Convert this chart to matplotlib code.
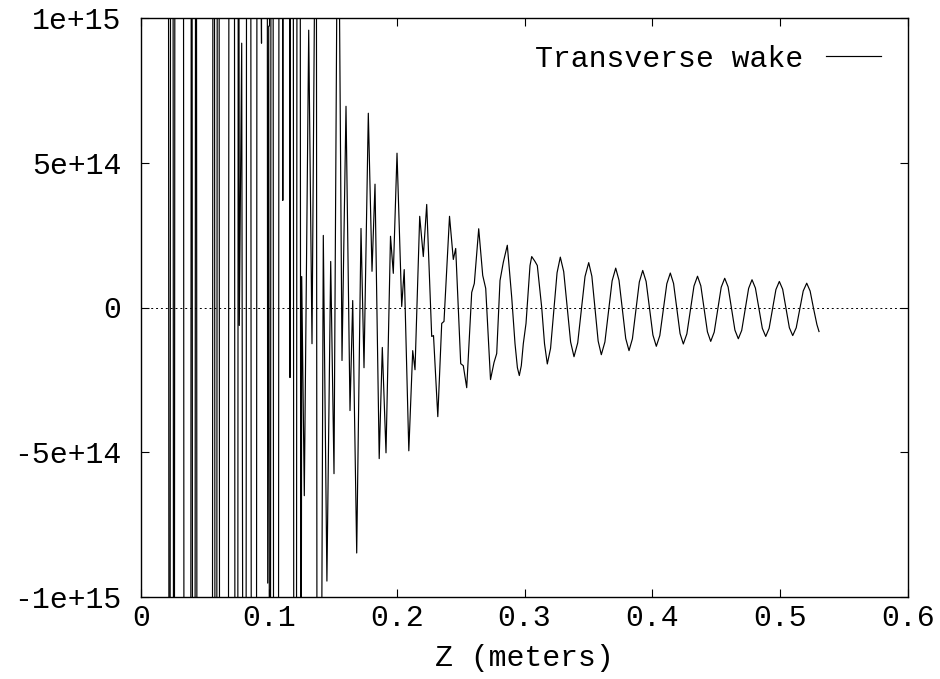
import matplotlib
matplotlib.use("Agg")
import matplotlib.pyplot as plt

# ---------------- data ----------------
z_m = [
    0.02128, 0.02206, 0.02253, 0.02331, 0.02488, 0.02566, 0.02597, 0.02675,
    0.03301, 0.03380, 0.03872, 0.03951, 0.03974, 0.04052, 0.04209, 0.04287,
    0.04318, 0.04396, 0.05570, 0.05648, 0.05726, 0.05805, 0.05906, 0.05985,
    0.06086, 0.06164, 0.06822, 0.06900, 0.07291, 0.07369, 0.07549, 0.07627,
    0.07690, 0.07878, 0.08018, 0.08198, 0.08277, 0.08566, 0.08644, 0.09012,
    0.09090, 0.09427, 0.09466, 0.09857, 0.09912, 0.09990, 0.10037, 0.10076,
    0.10107, 0.10185, 0.10311, 0.10389, 0.10733, 0.10811, 0.11030, 0.11093,
    0.11155, 0.11601, 0.11656, 0.11719, 0.11891, 0.11969, 0.12141, 0.12219,
    0.12438, 0.12517, 0.12571, 0.12775, 0.13119, 0.13377, 0.13643, 0.13706,
    0.13784, 0.14042, 0.14261, 0.14543, 0.14840, 0.15098, 0.15411, 0.15724,
    0.16037, 0.16350, 0.16561, 0.16874, 0.17210, 0.17445, 0.17782, 0.18071,
    0.18306, 0.18634, 0.18877, 0.19166, 0.19518, 0.19737, 0.20027, 0.20394,
    0.20590, 0.20950, 0.21255, 0.21435, 0.21802, 0.22084, 0.22350, 0.22546,
    0.22741, 0.22882, 0.23218, 0.23524, 0.23703, 0.23922, 0.24134, 0.24431,
    0.24618, 0.24814, 0.25010, 0.25213, 0.25479, 0.25675, 0.25870, 0.26074,
    0.26418, 0.26731, 0.26966, 0.27153, 0.27341, 0.27615, 0.27826, 0.28084,
    0.28342, 0.28655, 0.29000, 0.29258, 0.29445, 0.29594, 0.29750, 0.29907,
    0.30118, 0.30298, 0.30431, 0.30564, 0.30822, 0.31002, 0.31346, 0.31565,
    0.31784, 0.32039, 0.32293, 0.32547, 0.32801, 0.33067, 0.33337, 0.33607,
    0.33873, 0.34163, 0.34448, 0.34734, 0.35023, 0.35270, 0.35516, 0.35762,
    0.36009, 0.36290, 0.36572, 0.36854, 0.37135, 0.37393, 0.37656, 0.37918,
    0.38176, 0.38442, 0.38712, 0.38982, 0.39248, 0.39513, 0.39779, 0.40045,
    0.40311, 0.40585, 0.40859, 0.41133, 0.41407, 0.41661, 0.41915, 0.42169,
    0.42424, 0.42701, 0.42979, 0.43257, 0.43534, 0.43793, 0.44051, 0.44309,
    0.44567, 0.44841, 0.45115, 0.45388, 0.45662, 0.45928, 0.46194, 0.46460,
    0.46726, 0.46992, 0.47262, 0.47532, 0.47798, 0.48064, 0.48334, 0.48604,
    0.48870, 0.49136, 0.49402, 0.49668, 0.49934, 0.50196, 0.50458, 0.50720,
    0.50982, 0.51256, 0.51529, 0.51803, 0.52077, 0.52343, 0.52609, 0.52875,
    0.53039,
]

wake = [
    3.1e15, -2.9e15, -3.2e15, 3.0e15, 2.8e15, -3.1e15, -2.7e15, 3.3e15,
    3.0e15, -2.8e15, -3.0e15, 2.9e15, 3.1e15, -3.2e15, -2.6e15, 2.7e15,
    3.0e15, -3.0e15, -2.9e15, 3.2e15, 2.8e15, -2.7e15, -3.1e15, 2.9e15,
    3.3e15, -3.0e15, -2.8e15, 3.1e15, 2.7e15, -2.9e15, -3.2e15, 3.0e15,
    -0.62e14, 9.13e14, -2.8e15, -3.0e15, 2.9e15, 3.1e15, -2.7e15, -3.0e15,
    2.8e15, 9.13e14, 3.0e15, 2.9e15, -9.52e14, 9.72e14, -9.72e14, -2.9e15,
    -3.1e15, 2.8e15, 3.0e15, -2.8e15, -3.0e15, 2.7e15, 2.9e15, 3.70e14,
    2.8e15, 2.6e15, -2.42e14, 2.7e15, 2.9e15, -2.6e15, -2.8e15, 2.5e15,
    2.4e15, -2.3e15, 1.07e14, -6.50e14, 9.58e14, -1.25e14, 1.5e15, 2.2e15,
    -2.4e15, -2.2e15, 2.49e14, -9.45e14, 1.59e14, -5.74e14, 1.76e15, -1.83e14,
    6.95e14, -3.56e14, 0.24e14, -8.48e14, 2.73e14, -2.08e14, 6.71e14, 1.25e14,
    4.26e14, -5.22e14, -1.38e14, -5.02e14, 2.46e14, 1.18e14, 5.33e14, 0.035e14,
    1.31e14, -4.95e14, -1.49e14, -2.15e14, 3.15e14, 1.76e14, 3.56e14, 1.28e14,
    -1.00e14, -0.97e14, -3.77e14, -0.55e14, -0.48e14, 1.35e14, 3.15e14, 1.66e14,
    2.04e14, 0.07e14, -1.94e14, -2.01e14, -2.77e14, -1.14e14, 0.52e14, 0.83e14,
    2.72e14, 1.11e14, 0.66e14, -0.90e14, -2.49e14, -1.90e14, -1.59e14, 0.93e14,
    1.56e14, 2.15e14, 0.35e14, -1.25e14, -2.08e14, -2.35e14, -2.01e14, -1.25e14,
    -0.55e14, 0.59e14, 1.45e14, 1.76e14, 1.59e14, 1.45e14, 0.0, -1.25e14,
    -1.95e14, -1.41e14, -0.10e14, 1.20e14, 1.74e14, 1.24e14, 0.02e14, -1.19e14,
    -1.70e14, -1.22e14, -0.08e14, 1.07e14, 1.55e14, 1.08e14, -0.04e14, -1.16e14,
    -1.63e14, -1.19e14, -0.13e14, 0.92e14, 1.36e14, 0.94e14, -0.07e14, -1.07e14,
    -1.49e14, -1.08e14, -0.10e14, 0.88e14, 1.28e14, 0.90e14, -0.03e14, -0.95e14,
    -1.34e14, -0.97e14, -0.08e14, 0.82e14, 1.19e14, 0.83e14, -0.03e14, -0.90e14,
    -1.26e14, -0.91e14, -0.09e14, 0.74e14, 1.08e14, 0.75e14, -0.04e14, -0.84e14,
    -1.17e14, -0.85e14, -0.08e14, 0.70e14, 1.01e14, 0.71e14, -0.03e14, -0.78e14,
    -1.08e14, -0.79e14, -0.06e14, 0.66e14, 0.96e14, 0.67e14, -0.02e14, -0.72e14,
    -1.00e14, -0.72e14, -0.05e14, 0.62e14, 0.90e14, 0.63e14, -0.03e14, -0.70e14,
    -0.97e14, -0.70e14, -0.07e14, 0.57e14, 0.84e14, 0.57e14, -0.03e14, -0.59e14,
    -0.83e14,
]

x_ticks = [0.0, 0.1, 0.2, 0.3, 0.4, 0.5, 0.6]
x_tick_labels = ["0", "0.1", "0.2", "0.3", "0.4", "0.5", "0.6"]
y_ticks = [-1e15, -5e14, 0.0, 5e14, 1e15]
y_tick_labels = ["-1e+15", "-5e+14", "0", "5e+14", "1e+15"]
series_label = "Transverse wake"
x_label = "Z (meters)"

# ---------------- figure ----------------
plt.rcParams["font.family"] = ["Liberation Mono", "DejaVu Sans Mono"]
FS = 21.5

fig = plt.figure(figsize=(9.4, 6.79), dpi=100)
ax = fig.add_axes([141 / 940, 1 - 597 / 679, 767 / 940, 579 / 679])

ax.plot(z_m, wake, color="black", lw=0.85, label=series_label,
        solid_joinstyle="round")
ax.axhline(0.0, color="black", lw=0.7, ls=(0, (2.0, 3.0)), zorder=1)

ax.set_xlim(0, 0.6)
ax.set_ylim(-1e15, 1e15)
ax.set_xticks(x_ticks)
ax.set_xticklabels(x_tick_labels)
ax.set_yticks(y_ticks)
ax.set_yticklabels(y_tick_labels)
ax.minorticks_off()

ax.tick_params(axis="both", direction="in", length=5.5, width=0.8,
               top=True, right=True, labelsize=FS, color="black")
ax.tick_params(axis="y", pad=14)
ax.tick_params(axis="x", pad=5)
for sp in ax.spines.values():
    sp.set_linewidth(1.0)
    sp.set_color("black")

ax.set_xlabel(x_label, fontsize=FS, labelpad=9)

ax.legend(loc="upper right", frameon=False, markerfirst=False, fontsize=FS,
          handlelength=1.85, handletextpad=0.75, borderaxespad=0.5,
          borderpad=0.4)

fig.savefig("out.png", dpi=100)
